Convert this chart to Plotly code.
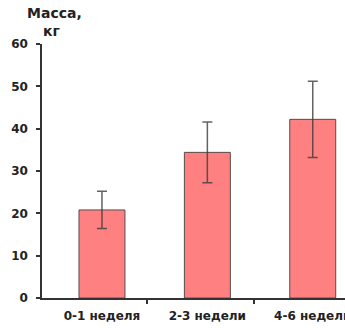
import plotly.graph_objects as go

categories = ["0-1 неделя", "2-3 недели", "4-6 недели"]
mass = [20.8, 34.4, 42.2]
err = [4.4, 7.2, 9.0]
y_ticks = [0, 10, 20, 30, 40, 50, 60]

FONT = "DejaVu Sans"
x_pos = list(range(len(categories)))

fig = go.Figure()
fig.add_trace(go.Bar(
    x=x_pos, y=mass, width=0.436,
    marker=dict(color="#FF8080", line=dict(color="#5a4a4a", width=1)),
    error_y=dict(type="data", array=err, visible=True, color="rgba(60,60,60,0.8)",
                 thickness=1.5, width=5),
    showlegend=False, hoverinfo="skip",
))

x_range = [-0.569, 2.306]
fig.update_layout(
    width=345, height=328,
    margin=dict(l=42, r=0, t=44, b=30),
    plot_bgcolor="white", paper_bgcolor="white",
    xaxis=dict(range=x_range, tickvals=x_pos, ticktext=categories, ticks="",
               showline=True, linecolor="#333", linewidth=1.5, showgrid=False,
               zeroline=False, automargin=False, ticklabelstandoff=6,
               ticklabeloverflow="allow",
               minor=dict(tickvals=[0.43, 1.44], ticks="outside", ticklen=4,
                          tickwidth=1.5, tickcolor="#333", showgrid=False),
               tickfont=dict(family=FONT, size=12, color="#222", weight="bold")),
    yaxis=dict(range=[0, 60], tickvals=y_ticks, ticks="outside", ticklen=4,
               tickwidth=1.5, tickcolor="#333", showline=True, linecolor="#333",
               linewidth=1.5, showgrid=False, zeroline=False, automargin=False,
               ticklabelstandoff=6,
               tickfont=dict(family=FONT, size=12, color="#222", weight="bold")),
    annotations=[
        dict(text="<b>Масса,</b>", xref="paper", yref="paper", x=(54 - 42) / 303,
             y=(298 - 12.5) / 254, xanchor="center", yanchor="middle", showarrow=False,
             font=dict(family=FONT, size=14, color="#222")),
        dict(text="<b>кг</b>", xref="paper", yref="paper", x=(51 - 42) / 303,
             y=(298 - 31) / 254, xanchor="center", yanchor="middle", showarrow=False,
             font=dict(family=FONT, size=14, color="#222")),
    ],
)
fig.write_html("out.html", config={"displayModeBar": False},
               post_script="document.body.style.margin='0';document.body.style.overflow='hidden';")
